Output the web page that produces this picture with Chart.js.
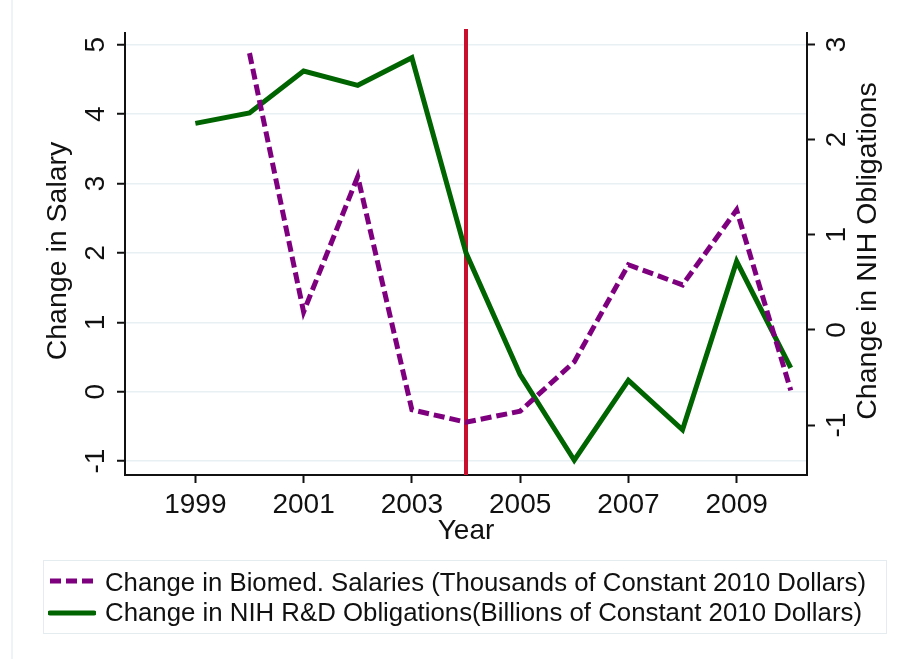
<!DOCTYPE html>
<html>
<head>
<meta charset="utf-8">
<script src="https://cdn.jsdelivr.net/npm/chart.js@4"></script>
<style>
  html, body { margin: 0; padding: 0; background: #fff; }
  #wrap { position: relative; width: 907px; height: 659px; overflow: hidden; background: #fff; }
  #c { position: absolute; left: 0; top: 0; }
  .frame { position: absolute; left: 11px; top: 0; width: 0; height: 659px; border-left: 2px solid #edf3f6; }
  #legendBox { position: absolute; left: 43px; top: 560px; width: 844px; height: 74px; border: 1.5px solid #e4ecf0; box-sizing: border-box; }
  .row { position: absolute; left: 105px; font-family: "Liberation Sans", Arial, sans-serif; font-size: 26.5px; color: #111; line-height: 30px; white-space: nowrap; transform-origin: 0 50%; }
  .sample { position: absolute; left: 48px; }
</style>
</head>
<body>
<div id="wrap">
  <div class="frame"></div>
  <canvas id="c" width="907" height="659"></canvas>
  <div id="legendBox"></div>
  <svg class="sample" style="top:574px" width="48" height="14">
    <line x1="2" y1="7" x2="46" y2="7" stroke="#7f007f" stroke-width="5" stroke-dasharray="11,5"/>
  </svg>
  <svg class="sample" style="top:606px" width="48" height="14">
    <line x1="2" y1="7" x2="46" y2="7" stroke="#006400" stroke-width="5" stroke-linecap="round"/>
  </svg>
  <div class="row" id="leg0" style="top:567px"></div>
  <div class="row" id="leg1" style="top:597px"></div>
</div>
<script>
// ---- Data ----
const salaryYears = [2000, 2001, 2002, 2003, 2004, 2005, 2006, 2007, 2008, 2009, 2010];
const salaryChange = [4.88, 1.15, 3.10, -0.26, -0.44, -0.28, 0.43, 1.83, 1.54, 2.62, 0.02];
const nihYears = [1999, 2000, 2001, 2002, 2003, 2004, 2005, 2006, 2007, 2008, 2009, 2010];
const nihChange = [2.17, 2.28, 2.72, 2.57, 2.86, 0.81, -0.47, -1.37, -0.53, -1.05, 0.72, -0.40];
const xTicks = [1999, 2001, 2003, 2005, 2007, 2009];
const salaryTicks = [-1, 0, 1, 2, 3, 4, 5];
const nihTicks = [-1, 0, 1, 2, 3];
const eventYear = 2004;
const seriesLabels = [
  "Change in Biomed. Salaries (Thousands of Constant 2010 Dollars)",
  "Change in NIH R&D Obligations(Billions of Constant 2010 Dollars)"
];
const xTitle = "Year";
const leftTitle = "Change in Salary";
const rightTitle = "Change in NIH Obligations";

// ---- Styles ----
const FONT = '"Liberation Sans", Arial, sans-serif';
const TXT = '#111';
const AXIS = '#111';

const legendWidths = [761, 757];
['leg0', 'leg1'].forEach((id, i) => {
  const el = document.getElementById(id);
  el.textContent = seriesLabels[i];
  const w = el.getBoundingClientRect().width;
  if (w > 0) el.style.transform = 'scaleX(' + (legendWidths[i] / w) + ')';
});

const rotatedText = {
  id: 'rotatedText',
  beforeDatasetsDraw(chart) {
    const ctx = chart.ctx, a = chart.chartArea;
    const x = chart.scales.x.getPixelForValue(eventYear);
    ctx.save();
    ctx.strokeStyle = '#c8102e';
    ctx.lineWidth = 4;
    ctx.beginPath();
    ctx.moveTo(x, a.top - 4);
    ctx.lineTo(x, a.bottom);
    ctx.stroke();
    ctx.restore();
  },
  afterDraw(chart) {
    const ctx = chart.ctx, a = chart.chartArea;
    const yL = chart.scales.y, yR = chart.scales.y2;
    ctx.save();
    ctx.fillStyle = TXT;
    ctx.font = '28px ' + FONT;
    ctx.textAlign = 'center';
    ctx.textBaseline = 'alphabetic';
    const put = (txt, x, y) => {
      ctx.save();
      ctx.translate(x, y);
      ctx.rotate(-Math.PI / 2);
      ctx.fillText(txt, 0, 0);
      ctx.restore();
    };
    salaryTicks.forEach(v => put(String(v), 104, yL.getPixelForValue(v)));
    nihTicks.forEach(v => put(String(v), 845, yR.getPixelForValue(v)));
    ctx.font = '28.5px ' + FONT;
    const cy = (a.top + a.bottom) / 2 - 3;
    put(leftTitle, 66, cy);
    put(rightTitle, 876, cy);
    ctx.restore();
  }
};

new Chart(document.getElementById('c'), {
  type: 'line',
  data: {
    datasets: [
      {
        label: seriesLabels[0],
        data: salaryYears.map((x, i) => ({ x, y: salaryChange[i] })),
        yAxisID: 'y',
        borderColor: '#7f007f',
        borderWidth: 5,
        borderDash: [11, 5],
        pointRadius: 0,
        tension: 0,
        fill: false
      },
      {
        label: seriesLabels[1],
        data: nihYears.map((x, i) => ({ x, y: nihChange[i] })),
        yAxisID: 'y2',
        borderColor: '#006400',
        borderWidth: 5,
        pointRadius: 0,
        tension: 0,
        fill: false
      }
    ]
  },
  options: {
    responsive: false,
    animation: false,
    layout: { padding: { top: 33, bottom: 111, left: 0, right: 0 } },
    plugins: { legend: { display: false }, tooltip: { enabled: false } },
    scales: {
      x: {
        type: 'linear',
        min: 1997.7,
        max: 2010.3,
        afterBuildTicks: s => { s.ticks = xTicks.map(v => ({ value: v })); },
        afterFit: s => { s.height = 73; },
        ticks: {
          font: { size: 28, family: FONT },
          color: TXT,
          padding: 5,
          maxRotation: 0,
          autoSkip: false,
          callback: v => String(v)
        },
        grid: { drawOnChartArea: false, drawTicks: true, tickLength: 8, tickColor: AXIS, tickWidth: 2 },
        border: { display: true, color: AXIS, width: 2 },
        title: { display: true, text: xTitle, color: TXT, font: { size: 28, family: FONT }, padding: { top: 0, bottom: 0 } }
      },
      y: {
        type: 'linear',
        position: 'left',
        min: -1.2,
        max: 5.17,
        afterBuildTicks: s => { s.ticks = salaryTicks.map(v => ({ value: v })); },
        afterFit: s => { s.width = 125; },
        ticks: { display: false },
        grid: { color: '#e8f0f3', lineWidth: 1.5, drawTicks: true, tickLength: 8, tickColor: AXIS, tickWidth: 2 },
        border: { display: true, color: AXIS, width: 2 }
      },
      y2: {
        type: 'linear',
        position: 'right',
        min: -1.525,
        max: 3.12,
        afterBuildTicks: s => { s.ticks = nihTicks.map(v => ({ value: v })); },
        afterFit: s => { s.width = 100; },
        ticks: { display: false },
        grid: { drawOnChartArea: false, drawTicks: true, tickLength: 8, tickColor: AXIS, tickWidth: 2 },
        border: { display: true, color: AXIS, width: 2 }
      }
    }
  },
  plugins: [rotatedText]
});
</script>
</body>
</html>
